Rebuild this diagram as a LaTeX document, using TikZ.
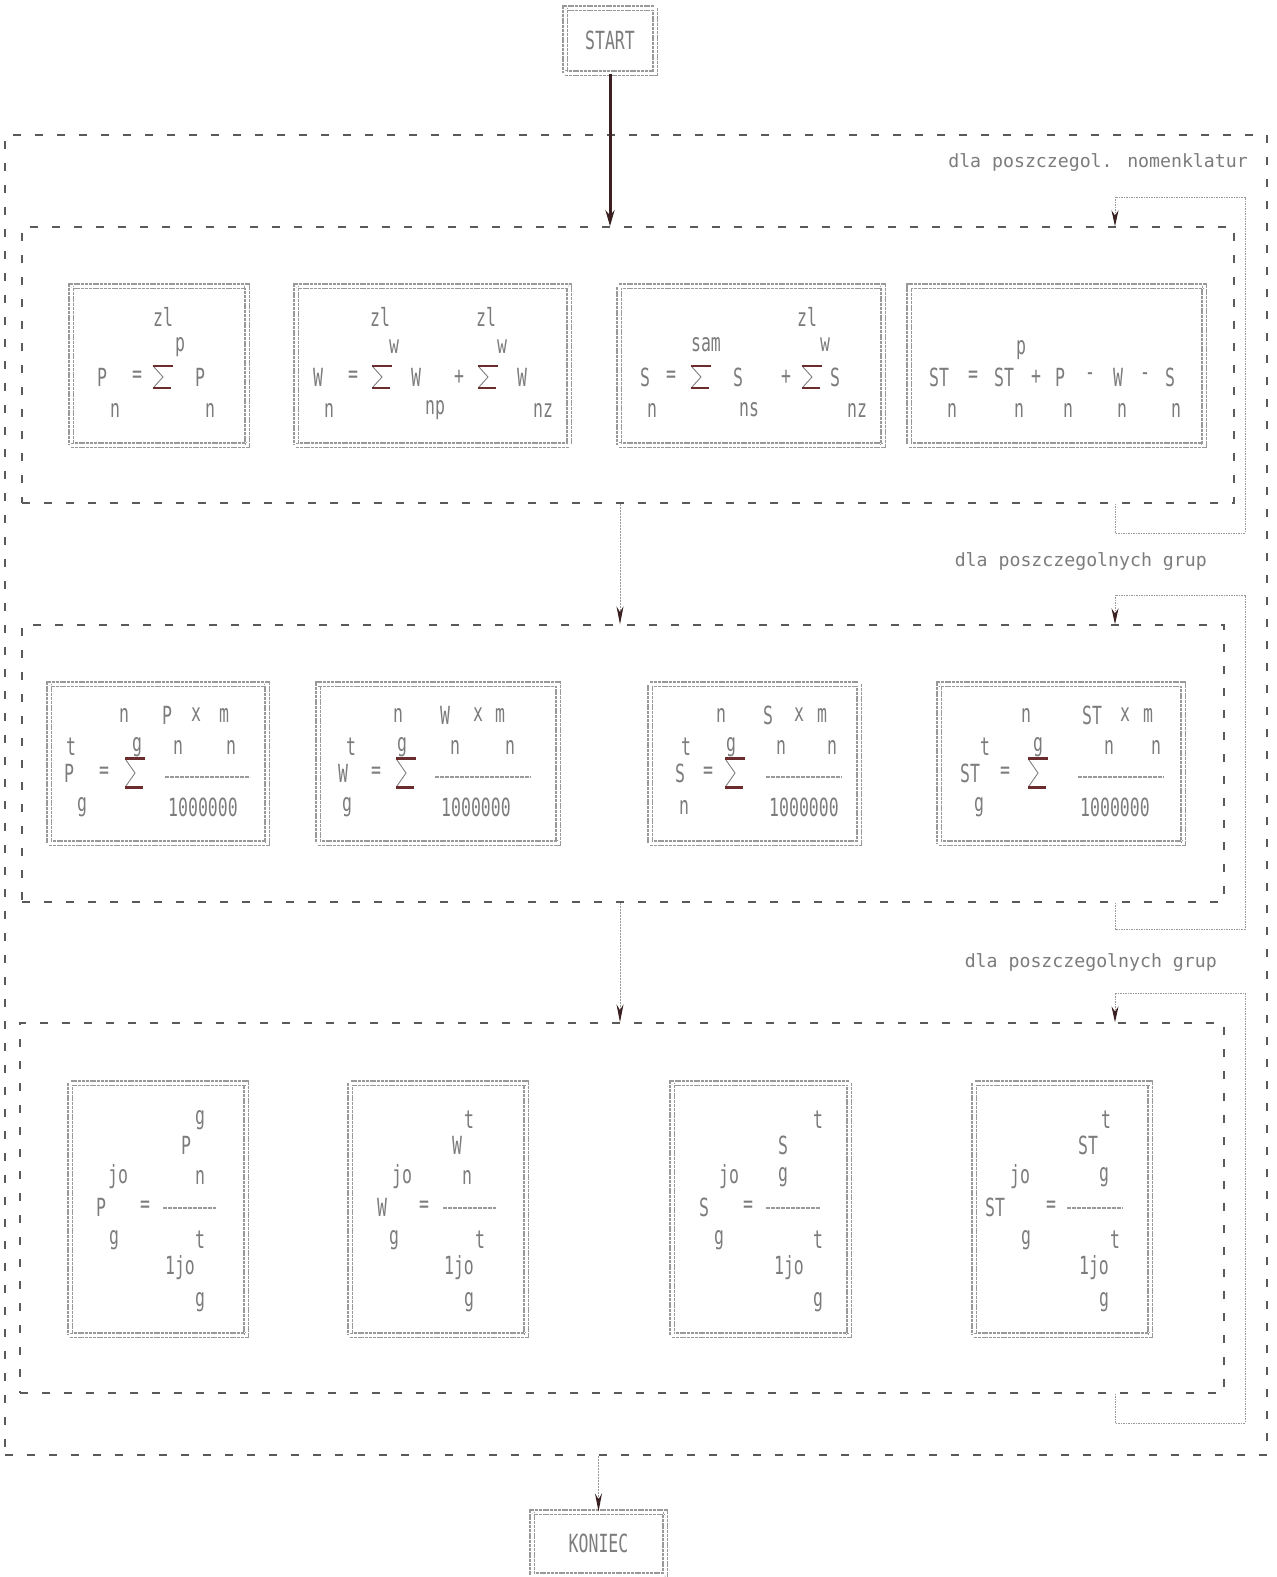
\documentclass[tikz,border=0pt]{standalone}
\usepackage{fontspec}
\newfontfamily\dmfont[FakeStretch=0.66]{DejaVu Sans Mono}
\newfontfamily\lbfont{DejaVu Sans Mono}
\usetikzlibrary{arrows.meta,fit}
\definecolor{txt}{HTML}{7C7C7C}
\definecolor{ln}{HTML}{5A5A5A}
\definecolor{dk}{HTML}{3A2020}
\definecolor{sg}{HTML}{6A2C2C}
\newcounter{txc}
\newcommand\ftx[3]{\stepcounter{txc}\node[tx] (tx\arabic{txc}) at (#1,#2) {#3};}
\newcommand\frl[3]{\draw[fracl] (#1,#3) -- (#2,#3);}
\begin{document}
\begin{tikzpicture}[x=1pt,y=-1pt,
  grp/.style={draw=ln, line width=1.4pt, dash pattern=on 8pt off 14pt, inner sep=0pt},
  fbox/.style={draw=gray!80, line width=1.2pt, dash pattern=on 3pt off 0.8pt, double=white, double distance=3pt, inner sep=0pt},
  tx/.style={text=txt, font=\dmfont\fontsize{25}{25}\selectfont, inner sep=0pt, anchor=center},
  lbl/.style={text=txt, font=\lbfont\fontsize{18.2}{19}\selectfont, inner sep=0pt},
  fb/.style={draw=gray!80, line width=1pt, dash pattern=on 1.5pt off 1pt},
  fbarr/.style={fb, -{Stealth[length=16pt,width=7pt,color=dk]}},
  flow/.style={draw=gray!80, line width=1pt, dash pattern=on 2pt off 1pt, -{Stealth[length=18pt,width=7pt,color=dk]}},
  mainarr/.style={draw=dk, line width=3pt, -{Stealth[length=16pt,width=9pt]}},
  fracl/.style={draw=gray!80, line width=1.3pt, dash pattern=on 4pt off 1pt},
  sigma/.pic={
    \draw[line width=0.9pt, gray] (-9,-10) -- (0,0) -- (-9,10);
    \draw[line width=2.6pt, sg] (-10,-11) -- (10,-11);
    \draw[line width=2.6pt, sg] (-10,11) -- (8,11);
  }
]
\useasboundingbox (0,0) rectangle (1277,1577);
\fill[white] (0,0) rectangle (1277,1577);

% terminals
\node[fbox, tx, minimum width=90pt, minimum height=65pt] (start) at (610,40.5) {START};
\node[fbox, tx, minimum width=133pt, minimum height=63pt] (konec) at (598.5,1543.5) {KONIEC};

% group frames
\node[grp, fit={(5,135)(1267,1455)}] (outer) {};
\node[grp, fit={(22,227)(1234,503)}] (g1) {};
\node[grp, fit={(22,625)(1224,902)}] (g2) {};
\node[grp, fit={(20,1023)(1224,1393)}] (g3) {};

% loop labels
\node[lbl, anchor=east] (l1) at (1248,162) {dla poszczegol. nomenklatur};
\node[lbl, anchor=east] (l2) at (1207,561) {dla poszczegolnych grup};
\node[lbl, anchor=east] (l3) at (1217,962) {dla poszczegolnych grup};

% formula boxes
\node[fbox, fit={(71,286)(247,445)}] (A) {};
\node[fbox, fit={(296,286)(569,445)}] (B) {};
\node[fbox, fit={(619,286)(883,445)}] (C) {};
\node[fbox, fit={(909,286)(1204,445)}] (D) {};
\node[fbox, fit={(49,684)(267,843)}] (E) {};
\node[fbox, fit={(318,684)(558,843)}] (F) {};
\node[fbox, fit={(650,684)(859,843)}] (G) {};
\node[fbox, fit={(939,684)(1183,843)}] (H) {};
\node[fbox, fit={(70,1083)(246,1335)}] (I) {};
\node[fbox, fit={(350,1083)(526,1335)}] (J) {};
\node[fbox, fit={(672,1083)(849,1335)}] (K) {};
\node[fbox, fit={(974,1083)(1150,1335)}] (L) {};

% connectors
\coordinate (mx) at (620,0);
\coordinate (fx) at (1115,0);
\coordinate (rx) at (1245,0);
\coordinate (f1t) at (1115,197);
\coordinate (f1b) at (1115,533);
\coordinate (f2t) at (1115,595);
\coordinate (f2b) at (1115,929);
\coordinate (f3t) at (1115,993);
\coordinate (f3b) at (1115,1423);

\draw[mainarr] (start.south) -- (start.south |- g1.north);
\draw[flow] (g1.south -| mx) -- (g2.north -| mx);
\draw[flow] (g2.south -| mx) -- (g3.north -| mx);
\draw[flow] (konec.north |- outer.south) -- (konec.north);

\draw[fbarr] (g1.south -| fx) -- (f1b) -- (f1b -| rx) -- (f1t -| rx) -- (f1t) -- (g1.north -| fx);
\draw[fbarr] (g2.south -| fx) -- (f2b) -- (f2b -| rx) -- (f2t -| rx) -- (f2t) -- (g2.north -| fx);
\draw[fbarr] (g3.south -| fx) -- (f3b) -- (f3b -| rx) -- (f3t -| rx) -- (f3t) -- (g3.north -| fx);

% ---- row 1
% A
\ftx{163}{317}{zl}\ftx{180}{347}{p}
\ftx{102}{377}{P}\ftx{137}{377}{=}\pic at (163,377) {sigma};\ftx{200}{377}{P}
\ftx{115}{410}{n}\ftx{210}{410}{n}
% B
\ftx{380}{317}{zl}\ftx{486}{317}{zl}
\ftx{394}{347}{w}\ftx{502}{347}{w}
\ftx{318}{377}{W}\ftx{353}{377}{=}\pic at (382,377) {sigma};\ftx{416}{377}{W}
\ftx{459}{377}{+}\pic at (488,377) {sigma};\ftx{522}{377}{W}
\ftx{329}{410}{n}\ftx{435}{410}{np}\ftx{543}{410}{nz}
% C
\ftx{807}{317}{zl}
\ftx{706}{345}{sam}\ftx{825}{345}{w}
\ftx{645}{377}{S}\ftx{671}{377}{=}\pic at (701,377) {sigma};\ftx{738}{377}{S}
\ftx{786}{377}{+}\pic at (812,377) {sigma};\ftx{835}{377}{S}
\ftx{652}{410}{n}\ftx{749}{410}{ns}\ftx{857}{410}{nz}
% D
\ftx{1021}{350}{p}
\ftx{939}{377}{ST}\ftx{973}{377}{=}\ftx{1004}{377}{ST}\ftx{1036}{377}{+}
\ftx{1060}{377}{P}\ftx{1090}{377}{-}\ftx{1118}{377}{W}\ftx{1145}{377}{-}\ftx{1170}{377}{S}
\ftx{952}{410}{n}\ftx{1019}{410}{n}\ftx{1068}{410}{n}\ftx{1122}{410}{n}\ftx{1176}{410}{n}

% ---- row 2
% E
\ftx{124}{715}{n}\ftx{167}{715}{P}\ftx{196}{715}{x}\ftx{224}{715}{m}
\ftx{71}{747}{t}\ftx{137}{747}{g}\ftx{178}{747}{n}\ftx{231}{747}{n}
\ftx{69}{773}{P}\ftx{104}{773}{=}\pic[yscale=1.3] at (135,773) {sigma};\frl{165}{250}{777}
\ftx{82}{807}{g}\ftx{203}{807}{1000000}
% F
\ftx{398}{715}{n}\ftx{445}{715}{W}\ftx{478}{715}{x}\ftx{500}{715}{m}
\ftx{351}{747}{t}\ftx{402}{747}{g}\ftx{455}{747}{n}\ftx{510}{747}{n}
\ftx{343}{773}{W}\ftx{376}{773}{=}\pic[yscale=1.3] at (406,773) {sigma};\frl{435}{531}{777}
\ftx{347}{807}{g}\ftx{476}{807}{1000000}
% G
\ftx{721}{715}{n}\ftx{768}{715}{S}\ftx{799}{715}{x}\ftx{822}{715}{m}
\ftx{686}{747}{t}\ftx{731}{747}{g}\ftx{781}{747}{n}\ftx{832}{747}{n}
\ftx{680}{773}{S}\ftx{708}{773}{=}\pic[yscale=1.3] at (735,773) {sigma};\frl{766}{842}{777}
\ftx{684}{807}{n}\ftx{804}{807}{1000000}
% H
\ftx{1026}{715}{n}\ftx{1092}{715}{ST}\ftx{1125}{715}{x}\ftx{1148}{715}{m}
\ftx{985}{747}{t}\ftx{1038}{747}{g}\ftx{1109}{747}{n}\ftx{1156}{747}{n}
\ftx{970}{773}{ST}\ftx{1005}{773}{=}\pic[yscale=1.3] at (1038,773) {sigma};\frl{1078}{1164}{777}
\ftx{979}{807}{g}\ftx{1115}{807}{1000000}

% ---- row 3
% I
\ftx{200}{1120}{g}\ftx{186}{1145}{P}
\ftx{118}{1177}{jo}\ftx{200}{1177}{n}
\ftx{101}{1207}{P}\ftx{145}{1207}{=}\frl{163}{216}{1208}
\ftx{114}{1240}{g}\ftx{200}{1240}{t}
\ftx{180}{1268}{1jo}\ftx{200}{1302}{g}
% J
\ftx{469}{1120}{t}\ftx{457}{1145}{W}
\ftx{402}{1177}{jo}\ftx{467}{1177}{n}
\ftx{382}{1207}{W}\ftx{424}{1207}{=}\frl{443}{496}{1208}
\ftx{394}{1240}{g}\ftx{480}{1240}{t}
\ftx{459}{1268}{1jo}\ftx{469}{1302}{g}
% K
\ftx{818}{1120}{t}\ftx{783}{1145}{S}
\ftx{729}{1177}{jo}\ftx{783}{1177}{g}
\ftx{704}{1207}{S}\ftx{748}{1207}{=}\frl{766}{820}{1208}
\ftx{719}{1240}{g}\ftx{818}{1240}{t}
\ftx{789}{1268}{1jo}\ftx{818}{1302}{g}
% L
\ftx{1106}{1120}{t}\ftx{1088}{1145}{ST}
\ftx{1020}{1177}{jo}\ftx{1104}{1177}{g}
\ftx{995}{1207}{ST}\ftx{1051}{1207}{=}\frl{1067}{1123}{1208}
\ftx{1026}{1240}{g}\ftx{1115}{1240}{t}
\ftx{1094}{1268}{1jo}\ftx{1104}{1302}{g}
\end{tikzpicture}
\end{document}
